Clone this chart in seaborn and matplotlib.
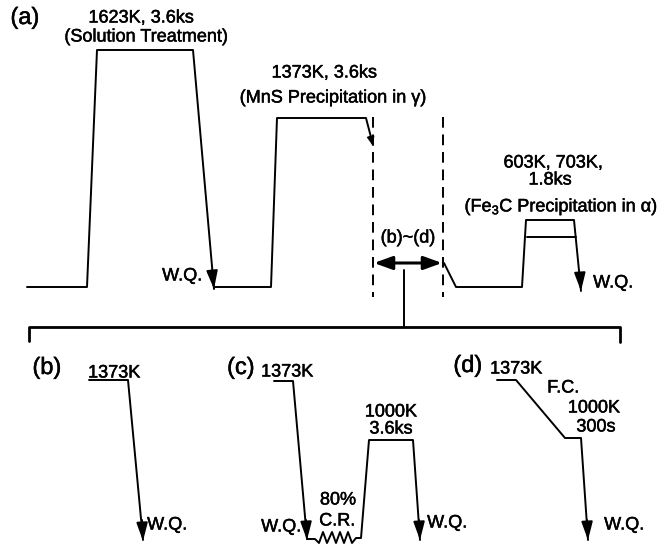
import matplotlib
matplotlib.use("Agg")
import matplotlib.pyplot as plt
import matplotlib.patheffects as pe
import seaborn as sns
import pandas as pd

sns.set_theme(style="white")
plt.rcParams['font.family'] = ['Liberation Sans', 'DejaVu Sans']
plt.rcParams['mathtext.fontset'] = 'custom'
plt.rcParams['mathtext.rm'] = 'Liberation Sans'
plt.rcParams['mathtext.default'] = 'regular'

# ---- schematic paths (time axis -> x, temperature -> y, in drawing units) ----
a1_x = [27, 87, 97, 193, 214]
a1_y = [287, 287, 50, 50, 289]
a2_x = [214, 271, 277, 366, 373]
a2_y = [287, 287, 118, 118, 145]
a3_x = [444, 456, 522, 526, 574, 581]
a3_y = [263, 287, 287, 220, 220, 291]
a3_low_x = [527, 576]
a3_low_y = [237, 237]
stem_x = [404, 404]
stem_y = [270, 327]
bracket_x = [29, 29, 620, 620]
bracket_y = [341, 327, 327, 342]
b_x = [89, 128, 143]
b_y = [380, 380, 540]
c1_x = [274, 293, 307]
c1_y = [381, 381, 539]
c2_x = [307, 315, 319, 323, 327, 332, 336, 340, 344, 348, 352, 356, 361, 369, 413, 420]
c2_y = [539, 539, 543, 532, 543, 532, 543, 532, 543, 532, 543, 538, 538, 440, 440, 540]
d_x = [497, 516, 565, 581, 588]
d_y = [380, 380, 438, 438, 540]
dash1_x = [373, 373]
dash1_y = [117, 297]
dash2_x = [443, 443]
dash2_y = [117, 297]

# arrowheads: (tip, point before tip)
arrow_tips = [((214, 289), (212, 270)), ((373, 146), (371, 138)),
              ((581, 291), (580, 275)), ((143, 541), (142, 520)),
              ((307, 540), (306, 520)), ((420, 540), (419, 520)),
              ((588, 540), (587, 520))]

# ---- labels ----
texts = [
    ("(a)", 25, 18, 17), ("(b)", 47, 368, 17), ("(c)", 241, 368, 17), ("(d)", 468, 366, 17),
    ("1623K, 3.6ks", 141, 18, 13), ("(Solution Treatment)", 146, 37, 13),
    ("1373K, 3.6ks", 324, 73, 13), ("(MnS Precipitation in γ)", 333, 98, 13),
    ("(b)~(d)", 408, 238, 13),
    ("603K, 703K,", 553, 163, 13), ("1.8ks", 550, 180, 13),
    ("(Fe$_3$C Precipitation in α)", 561, 207, 13),
    ("W.Q.", 182, 276, 13), ("W.Q.", 613, 283, 13),
    ("1373K", 114, 373, 13), ("1373K", 287, 372, 13), ("1373K", 516, 369, 13),
    ("W.Q.", 167, 525, 13), ("W.Q.", 281, 527, 13),
    ("80%", 338, 500, 13), ("C.R.", 337, 521, 13),
    ("1000K", 391, 412, 13), ("3.6ks", 391, 429, 13),
    ("W.Q.", 447, 523, 13),
    ("F.C.", 563, 388, 13), ("1000K", 594, 408, 13), ("300s", 596, 427, 13),
    ("W.Q.", 624, 525, 13),
]

segs = [("a1", a1_x, a1_y), ("a2", a2_x, a2_y), ("a3", a3_x, a3_y),
        ("a3low", a3_low_x, a3_low_y), ("stem", stem_x, stem_y),
        ("b", b_x, b_y), ("c1", c1_x, c1_y), ("c2", c2_x, c2_y), ("d", d_x, d_y)]
rows = []
for name, xs, ys in segs:
    for i, (x, y) in enumerate(zip(xs, ys)):
        rows.append({"seg": name, "order": i, "x": x, "y": y})
df = pd.DataFrame(rows)

dash_df = pd.DataFrame({"seg": ["d1", "d1", "d2", "d2"],
                        "x": dash1_x + dash2_x, "y": dash1_y + dash2_y})
br_df = pd.DataFrame({"seg": ["br"] * 4, "x": bracket_x, "y": bracket_y})

fig = plt.figure(figsize=(6.66, 5.47), dpi=100)
ax = fig.add_axes([0, 0, 1, 1])

sns.lineplot(data=df, x="x", y="y", units="seg", estimator=None, sort=False,
             color="black", lw=1.4, ax=ax)
sns.lineplot(data=dash_df, x="x", y="y", units="seg", estimator=None, sort=False,
             color="black", lw=1.4, linestyle=(0, (5.5, 3.5)), ax=ax)
sns.lineplot(data=br_df, x="x", y="y", units="seg", estimator=None, sort=False,
             color="black", lw=2.0, ax=ax)

for tip, base in arrow_tips:
    small = tip == (373, 146)
    ax.annotate("", xy=tip, xytext=base,
                arrowprops=dict(arrowstyle="-|>,head_length=%s,head_width=%s" %
                                ((0.25, 0.1) if small else (0.55, 0.17)),
                                mutation_scale=20, color="black", lw=1.4,
                                shrinkA=0, shrinkB=0))

ax.annotate("", xy=(374, 263), xytext=(442, 263),
            arrowprops=dict(arrowstyle="<|-|>,head_length=0.55,head_width=0.2",
                            mutation_scale=20, color="black", lw=2.2,
                            shrinkA=0, shrinkB=0))

stroke = [pe.withStroke(linewidth=0.35, foreground="black")]
for s, x, y, fs in texts:
    ax.text(x, y, s, ha="center", va="center", fontsize=fs, color="black",
            path_effects=stroke)

ax.set_xlim(0, 666)
ax.set_ylim(547, 0)
ax.axis("off")
fig.savefig("out.png", dpi=100)
